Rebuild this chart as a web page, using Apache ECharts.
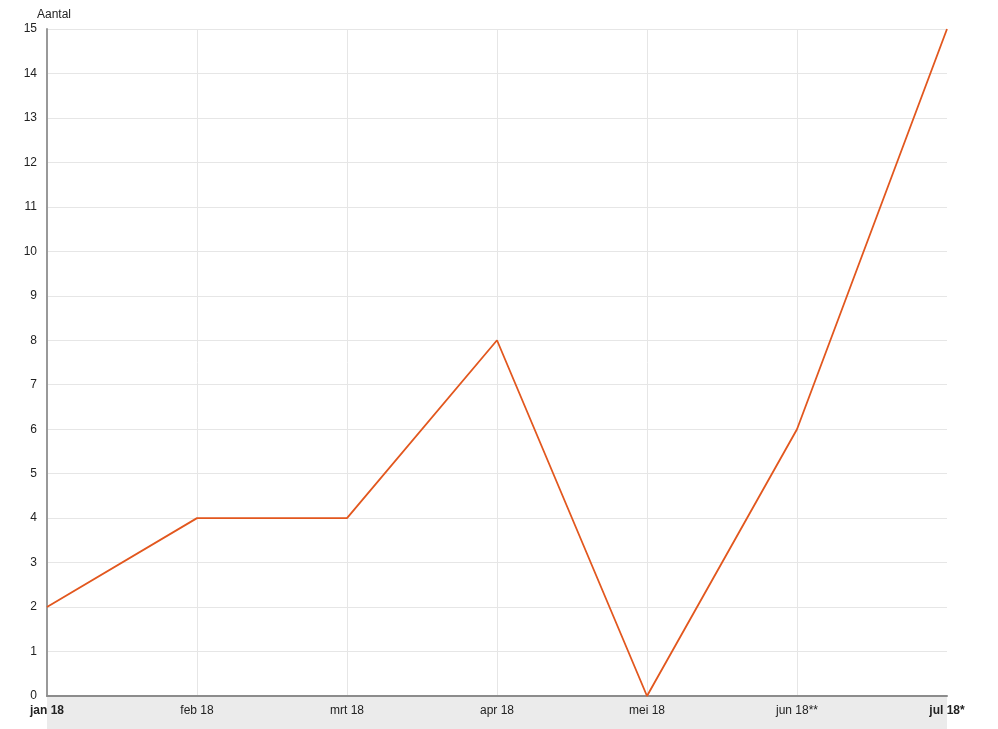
<!DOCTYPE html>
<html>
<head>
<meta charset="utf-8">
<script src="https://cdn.jsdelivr.net/npm/echarts@6/dist/echarts.min.js"></script>
<style>html,body{margin:0;padding:0;background:#fff;}#c{width:998px;height:729px;}</style>
</head>
<body>
<div id="c"></div>
<script>
const categories = ['jan 18', 'feb 18', 'mrt 18', 'apr 18', 'mei 18', 'jun 18**', 'jul 18*'];
const values = [2, 4, 4, 8, 0, 6, 15];
const boldLabels = ['jan 18', 'jul 18*'];
const yName = 'Aantal';

const chart = echarts.init(document.getElementById('c'), null, {renderer: 'canvas'});
chart.setOption({
  animation: false,
  backgroundColor: '#fff',
  textStyle: {fontFamily: 'Liberation Sans, Arial, sans-serif'},
  graphic: [{
    type: 'rect', left: 47, top: 697, z: -10,
    shape: {width: 900, height: 32},
    style: {fill: '#ebebeb'}
  }],
  grid: {left: 47, right: 51, top: 29, bottom: 33, containLabel: false},
  xAxis: {
    type: 'category',
    data: categories,
    boundaryGap: false,
    axisLine: {lineStyle: {color: '#8c8c8c', width: 2}},
    axisTick: {show: false},
    splitLine: {
      show: true,
      interval: function (i) { return i < categories.length - 1; },
      lineStyle: {color: '#e6e6e6', width: 1}
    },
    axisLabel: {
      margin: 9, fontSize: 12, color: '#222',
      formatter: function (v) { return boldLabels.indexOf(v) >= 0 ? '{b|' + v + '}' : v; },
      rich: {b: {fontWeight: 'bold', fontSize: 12, color: '#222'}}
    }
  },
  yAxis: {
    type: 'value',
    min: 0, max: 15, interval: 1,
    name: yName,
    nameLocation: 'end',
    nameGap: 8,
    nameTextStyle: {fontSize: 12, color: '#222', align: 'center', padding: [0, 0, 0, 14]},
    axisLine: {show: true, lineStyle: {color: '#999', width: 2}},
    axisTick: {show: false},
    splitLine: {lineStyle: {color: '#e6e6e6', width: 1}},
    axisLabel: {margin: 10, fontSize: 12, color: '#222', padding: [2, 0, 0, 0]}
  },
  series: [{
    type: 'line',
    data: values,
    symbol: 'none',
    lineStyle: {color: '#e2571e', width: 1.8},
    itemStyle: {color: '#e2571e'}
  }]
});
</script>
</body>
</html>
